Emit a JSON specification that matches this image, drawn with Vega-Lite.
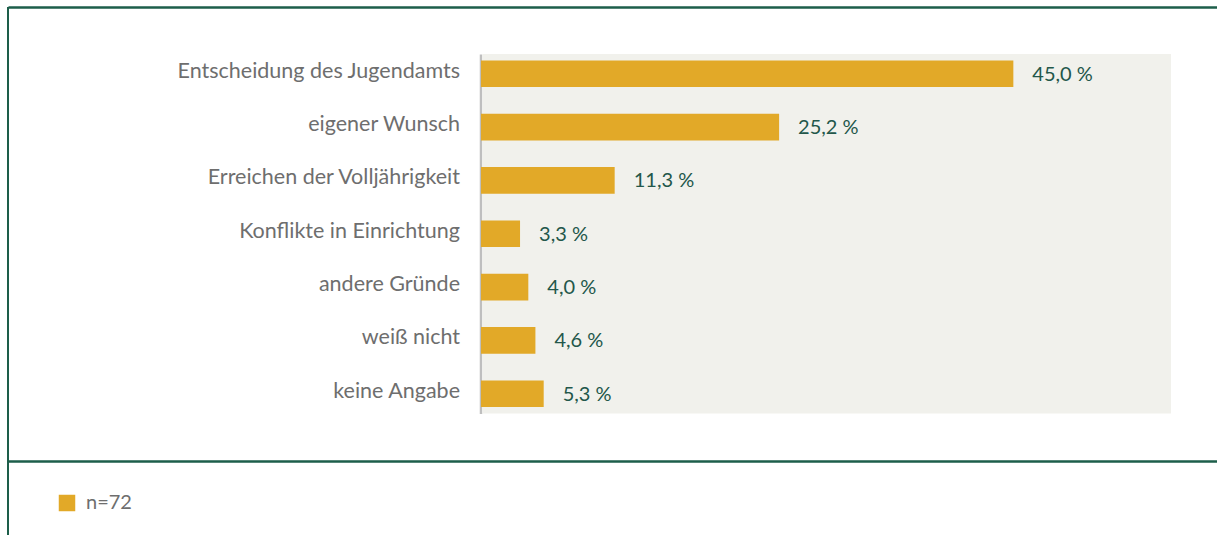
{
  "$schema": "https://vega.github.io/schema/vega-lite/v6.json",
  "width": 1209,
  "height": 528,
  "autosize": {"type": "none"},
  "padding": {"left": 8, "top": 7, "right": 0, "bottom": 0},
  "background": "#ffffff",
  "config": {"view": {"stroke": null}, "font": "Lato"},
  "data": {
    "values": [
      {"grund": "Entscheidung des Jugendamts", "anteil": 45.0, "label": "45,0 %"},
      {"grund": "eigener Wunsch", "anteil": 25.2, "label": "25,2 %"},
      {"grund": "Erreichen der Volljährigkeit", "anteil": 11.3, "label": "11,3 %"},
      {"grund": "Konflikte in Einrichtung", "anteil": 3.3, "label": "3,3 %"},
      {"grund": "andere Gründe", "anteil": 4.0, "label": "4,0 %"},
      {"grund": "weiß nicht", "anteil": 4.6, "label": "4,6 %"},
      {"grund": "keine Angabe", "anteil": 5.3, "label": "5,3 %"}
    ]
  },
  "resolve": {"scale": {"y": "independent"}, "axis": {"x": "independent", "y": "independent"}},
  "layer": [
    {
      "data": {"values": [{"bereich": "Diagrammfläche"}]},
      "mark": {"type": "rect", "color": "#f1f1ec"},
      "encoding": {
        "x": {"datum": 0.12, "type": "quantitative",
              "scale": {"domain": [-39.983, 62.215], "nice": false, "zero": false},
              "axis": {"orient": "top", "domain": true, "domainColor": "#1d5e4a", "domainWidth": 2.5, "labels": false, "ticks": false, "grid": false, "title": null}},
        "x2": {"datum": 58.33},
        "y": {"datum": 0, "type": "quantitative", "scale": {"domain": [0, 1], "range": [47, 406.5]}, "axis": null},
        "y2": {"datum": 1}
      }
    },
    {
      "data": {"values": [{"bereich": "Rahmen"}]},
      "mark": {"type": "rule", "color": "#1d5e4a", "strokeWidth": 2},
      "encoding": {
        "x": {"datum": -39.983, "type": "quantitative",
              "scale": {"domain": [-39.983, 62.215], "nice": false, "zero": false},
              "axis": null}
      }
    },
    {
      "encoding": {
        "y": {"field": "grund", "type": "nominal", "sort": null,
              "scale": {"range": [47, 406.5], "paddingInner": 0.5, "paddingOuter": 0.12},
              "axis": {"orient": "left", "offset": -472.5, "title": null, "domain": true, "domainColor": "#bfbfbf", "domainWidth": 2.5,
                       "ticks": false, "tickSize": 0, "labels": true, "labelFont": "Lato", "labelFontSize": 21.5, "labelColor": "#6e6e6e",
                       "labelPadding": 21, "labelOffset": -2, "labelLimit": 0, "grid": false}},
        "x": {"field": "anteil", "type": "quantitative",
              "scale": {"domain": [-39.983, 62.215], "nice": false, "zero": false},
              "axis": {"orient": "bottom", "offset": -74, "domain": true, "domainColor": "#1d5e4a", "domainWidth": 2.5, "labels": false, "ticks": false, "grid": false, "title": null}}
      },
      "layer": [
        {
          "mark": {"type": "bar"},
          "encoding": {
            "x2": {"datum": 0},
            "color": {"datum": "n=72", "type": "nominal", "scale": {"range": ["#e2a928"]},
                      "legend": {"orient": "none", "legendX": 49, "legendY": 486, "title": null, "symbolType": "square", "symbolSize": 272,
                                 "symbolStrokeWidth": 0, "symbolOpacity": 1, "labelFont": "Lato", "labelFontSize": 20, "labelColor": "#6e6e6e",
                                 "labelOffset": 9, "padding": 0}}
          }
        },
        {
          "mark": {"type": "text", "align": "left", "baseline": "middle", "dx": 19, "dy": 1, "font": "Lato", "fontSize": 20, "color": "#23574a"},
          "encoding": {"text": {"field": "label", "type": "nominal"}}
        }
      ]
    }
  ]
}
